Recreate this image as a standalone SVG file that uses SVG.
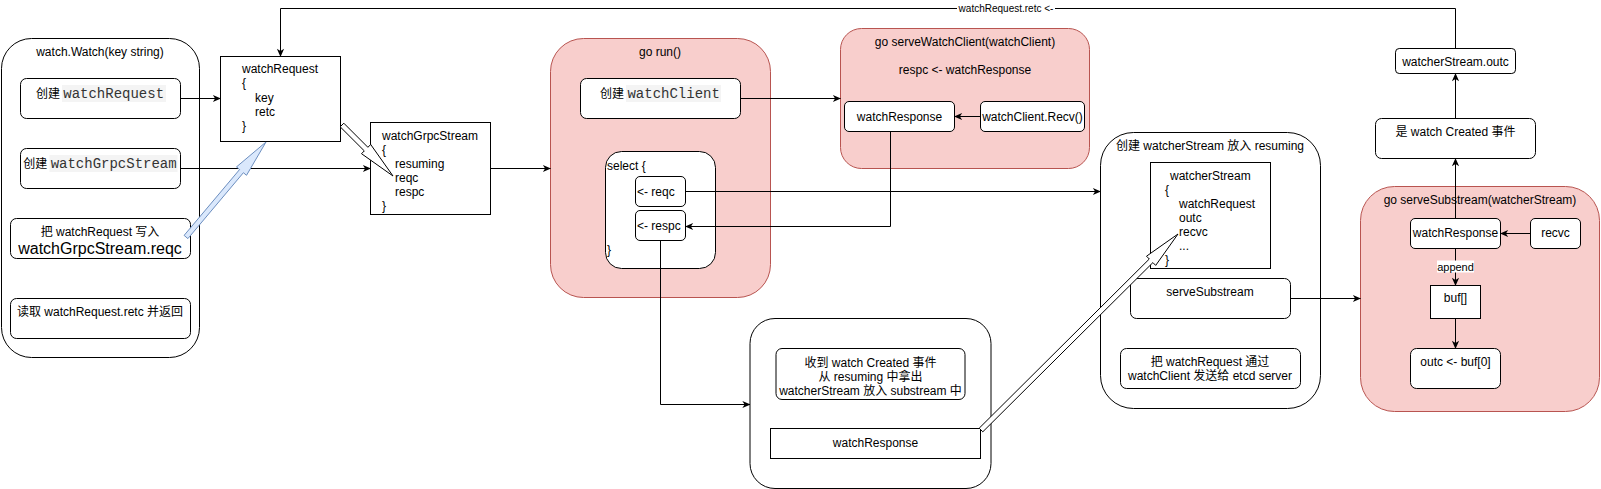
<svg xmlns="http://www.w3.org/2000/svg" width="1601" height="489" viewBox="0 0 1601 489">
<defs>
<style>
.t{font-family:"Liberation Sans","Noto Sans CJK SC",sans-serif;font-size:12px;fill:#000}
.m{font-family:"Liberation Mono",monospace;font-size:14px;fill:#333}
.c{text-anchor:middle}
.box{fill:#fff;stroke:#000;stroke-width:1}
.pink{fill:#f8cecc;stroke:#b85450;stroke-width:1}
.hl{fill:#f4f4f4}
.e{fill:none;stroke:#000;stroke-width:1}
.flex{fill:#fff;stroke:#000;stroke-width:1}
.flexb{fill:#dae8fc;stroke:#6c8ebf;stroke-width:1}
</style>
<marker id="ah" viewBox="0 0 10 10" refX="9.5" refY="5" markerWidth="9" markerHeight="9" markerUnits="userSpaceOnUse" orient="auto"><path d="M1,1 L10,5 L1,9 L3.5,5 z" fill="#000"/></marker>
</defs>
<rect width="1601" height="489" fill="#fff"/>

<!-- containers -->
<g id="watchWatch">
<rect class="box" x="1.5" y="38.5" width="198" height="319" rx="30"/>
<text class="t c" x="100" y="56">watch.Watch(key string)</text>
</g>
<g id="goRun">
<rect class="pink" x="550.5" y="38.5" width="220" height="259" rx="33"/>
<text class="t c" x="660" y="56">go run()</text>
</g>
<g id="serveWatchClient">
<rect class="pink" x="840.5" y="28.5" width="249" height="140" rx="21"/>
<text class="t c" x="965" y="46">go serveWatchClient(watchClient)</text>
<text class="t c" x="965" y="74">respc &lt;- watchResponse</text>
</g>
<g id="createdBox">
<rect class="box" x="750" y="318.5" width="241" height="170" rx="25"/>
</g>
<g id="createWatcherStream">
<rect class="box" x="1100.5" y="132.5" width="220" height="276" rx="33"/>
<text class="t c" x="1210" y="150">创建 watcherStream 放入 resuming</text>
</g>
<g id="serveSubstreamGo">
<rect class="pink" x="1360.5" y="186.5" width="239" height="225" rx="34"/>
<text class="t c" x="1480" y="204">go serveSubstream(watcherStream)</text>
</g>

<!-- inner nodes -->
<g id="createWatchRequest">
<rect class="box" x="20.5" y="78.5" width="160" height="40" rx="6"/>
<rect class="hl" x="62" y="85" width="104" height="17"/>
<text class="t c" x="100" y="98"><tspan>创建 </tspan><tspan class="m">watchRequest</tspan></text>
</g>
<g id="createWatchGrpcStream">
<rect class="box" x="20.5" y="148.5" width="160" height="40" rx="6"/>
<rect class="hl" x="49.5" y="155" width="128" height="17"/>
<text class="t c" x="100" y="168"><tspan>创建 </tspan><tspan class="m">watchGrpcStream</tspan></text>
</g>
<g id="writeReqc">
<rect class="box" x="10.5" y="218.5" width="180" height="40" rx="6"/>
<text class="t c" x="100" y="236">把 watchRequest 写入</text>
<text class="t c" x="100" y="254" style="font-size:16px">watchGrpcStream.reqc</text>
</g>
<g id="readRetc">
<rect class="box" x="10.5" y="298.5" width="180" height="40" rx="6"/>
<text class="t c" x="100" y="316">读取 watchRequest.retc 并返回</text>
</g>
<g id="watchRequest">
<rect class="box" x="220.5" y="56.5" width="120" height="85"/>
<text class="t" x="242" y="73">watchRequest</text>
<text class="t" x="242" y="87">{</text>
<text class="t" x="255" y="102">key</text>
<text class="t" x="255" y="116">retc</text>
<text class="t" x="242" y="130">}</text>
</g>
<g id="watchGrpcStream">
<rect class="box" x="370.5" y="122.5" width="120" height="92"/>
<text class="t" x="382" y="140">watchGrpcStream</text>
<text class="t" x="382" y="154">{</text>
<text class="t" x="395" y="168">resuming</text>
<text class="t" x="395" y="182">reqc</text>
<text class="t" x="395" y="196">respc</text>
<text class="t" x="382" y="210">}</text>
</g>
<g id="createWatchClient">
<rect class="box" x="580.5" y="78.5" width="160" height="40" rx="6"/>
<rect class="hl" x="626" y="85" width="95" height="17"/>
<text class="t c" x="660" y="98"><tspan>创建 </tspan><tspan class="m">watchClient</tspan></text>
</g>
<g id="select">
<rect class="box" x="605.5" y="151.5" width="110" height="117" rx="16"/>
<text class="t" x="607" y="170">select {</text>
<text class="t" x="607" y="254">}</text>
</g>
<g id="reqcCase">
<rect class="box" x="635.5" y="176.5" width="50" height="30" rx="4.5"/>
<text class="t" x="637" y="196">&lt;- reqc</text>
</g>
<g id="respcCase">
<rect class="box" x="635.5" y="210.5" width="50" height="30" rx="4.5"/>
<text class="t" x="637" y="230">&lt;- respc</text>
</g>
<g id="watchResponseSWC">
<rect class="box" x="844.5" y="101.5" width="110" height="30" rx="4.5"/>
<text class="t c" x="899.5" y="121">watchResponse</text>
</g>
<g id="watchClientRecv">
<rect class="box" x="980.5" y="101.5" width="104" height="30" rx="4.5"/>
<text class="t c" x="1032.5" y="121">watchClient.Recv()</text>
</g>
<g id="createdText">
<rect class="box" x="776" y="348.5" width="189" height="51" rx="6"/>
<text class="t c" x="870.5" y="367">收到 watch Created 事件</text>
<text class="t c" x="870.5" y="381">从 resuming 中拿出</text>
<text class="t c" x="870.5" y="395">watcherStream 放入 substream 中</text>
</g>
<g id="watchResponseCreated">
<rect class="box" x="770.5" y="428.5" width="210" height="30"/>
<text class="t c" x="875.5" y="447">watchResponse</text>
</g>
<g id="watcherStream">
<rect class="box" x="1150.5" y="162.5" width="120" height="106"/>
<text class="t" x="1170" y="180">watcherStream</text>
<text class="t" x="1165" y="194">{</text>
<text class="t" x="1179" y="208">watchRequest</text>
<text class="t" x="1179" y="222">outc</text>
<text class="t" x="1179" y="236">recvc</text>
<text class="t" x="1179" y="250">...</text>
<text class="t" x="1165" y="264">}</text>
</g>
<g id="serveSubstream">
<rect class="box" x="1130.5" y="278.5" width="160" height="40" rx="6"/>
<text class="t c" x="1210" y="296">serveSubstream</text>
</g>
<g id="sendRequest">
<rect class="box" x="1120.5" y="348.5" width="180" height="40" rx="6"/>
<text class="t c" x="1210" y="366">把 watchRequest 通过</text>
<text class="t c" x="1210" y="380">watchClient 发送给 etcd server</text>
</g>
<g id="watchResponseSub">
<rect class="box" x="1410.5" y="218.5" width="90" height="30" rx="4.5"/>
<text class="t c" x="1455.5" y="237">watchResponse</text>
</g>
<g id="recvc">
<rect class="box" x="1530.5" y="218.5" width="50" height="30" rx="4.5"/>
<text class="t c" x="1555.5" y="237">recvc</text>
</g>
<g id="buf">
<rect class="box" x="1430.5" y="285.5" width="50" height="33"/>
<text class="t c" x="1455.5" y="302">buf[]</text>
</g>
<g id="outcBuf">
<rect class="box" x="1410.5" y="348.5" width="90" height="40" rx="6"/>
<text class="t c" x="1455.5" y="366">outc &lt;- buf[0]</text>
</g>
<g id="isCreated">
<rect class="box" x="1375.5" y="118.5" width="160" height="40" rx="6"/>
<text class="t c" x="1455.5" y="136">是 watch Created 事件</text>
</g>
<g id="watcherStreamOutc">
<rect class="box" x="1395.5" y="48.5" width="120" height="25" rx="3.75"/>
<text class="t c" x="1455.5" y="66">watcherStream.outc</text>
</g>

<!-- connectors -->
<g id="connectors">
<path class="e" d="M1455.5,48.5 V8.5 H280.5 V56.5" marker-end="url(#ah)"/>
<rect x="957" y="2" width="98" height="13" fill="#fff"/>
<text class="t c" x="1006" y="12" style="font-size:10px">watchRequest.retc &lt;-</text>
<path class="e" d="M180.5,98.5 H220.5" marker-end="url(#ah)"/>
<path class="e" d="M180.5,168.5 H370.5" marker-end="url(#ah)"/>
<path class="e" d="M490.5,168.5 H550.5" marker-end="url(#ah)"/>
<path class="e" d="M740.5,98.5 H840.5" marker-end="url(#ah)"/>
<path class="e" d="M980.5,116.5 H954.5" marker-end="url(#ah)"/>
<path class="e" d="M890.5,131.5 V226.5 H685.5" marker-end="url(#ah)"/>
<path class="e" d="M685.5,191.5 H1100.5" marker-end="url(#ah)"/>
<path class="e" d="M660.5,240.5 V404.5 H750" marker-end="url(#ah)"/>
<path class="e" d="M1290.5,298.5 H1360.5" marker-end="url(#ah)"/>
<path class="e" d="M1530.5,233.5 H1500.5" marker-end="url(#ah)"/>
<path class="e" d="M1455.5,248.5 V285.5" marker-end="url(#ah)"/>
<rect x="1437" y="260.5" width="37" height="12" fill="#fff"/>
<text class="t c" x="1455.5" y="271" style="font-size:11px">append</text>
<path class="e" d="M1455.5,318.5 V348.5" marker-end="url(#ah)"/>
<path class="e" d="M1455.5,218.5 V158.5" marker-end="url(#ah)"/>
<path class="e" d="M1455.5,118.5 V73.5" marker-end="url(#ah)"/>
<polygon class="flexb" points="187.9,238.6 243.4,172.7 246.5,175.3 266,142 236.5,166.9 239.6,169.5 184.1,235.4"/>
<polygon class="flex" points="340.2,126.8 364.3,150.9 361.5,153.7 393,176 370.7,144.5 367.9,147.3 343.8,123.2"/>
<polygon class="flex" points="982.8,431.8 1152.9,262.6 1155.7,265.4 1178,234 1146.5,256.2 1149.3,259 979.2,428.2"/>
</g>
</svg>
